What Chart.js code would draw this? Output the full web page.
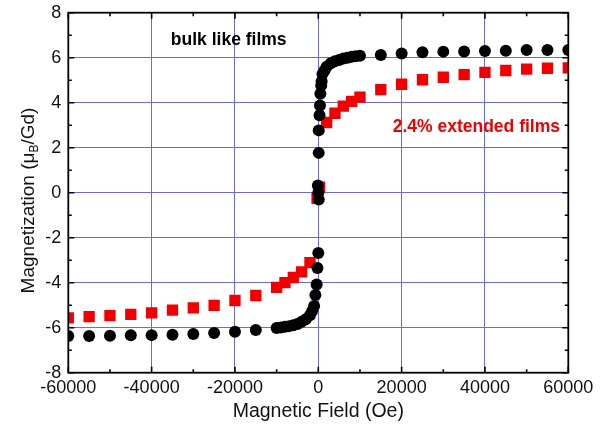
<!DOCTYPE html>
<html>
<head>
<meta charset="utf-8">
<script src="https://cdn.jsdelivr.net/npm/chart.js@4"></script>
<style>
    html, body { margin: 0; padding: 0; background: #fff; }
    #wrap { width: 611px; height: 436px; }
</style>
</head>
<body>
<div id="wrap"><canvas id="mChart" width="611" height="436"></canvas></div>
<script>
// Werte
const bulkFeld = [-60000, -55000, -50000, -45000, -40000, -35000, -30000, -25000, -20000, -15000,
    -10000, -9000, -8000, -7000, -6000, -5000, -4000, -3000, -2000, -1500, -1000, -700, -400, -200, 0,
    100, 0, -100, 100, 100, 300, 400, 500, 700, 800, 1000, 1500, 2000, 3000, 4000, 5000, 6000, 7000,
    8000, 9000, 10000, 15000, 20000, 25000, 30000, 35000, 40000, 45000, 50000, 55000, 60000];
const bulkMag = [-6.37, -6.37, -6.36, -6.34, -6.33, -6.31, -6.28, -6.24, -6.18, -6.10,
    -6.01, -5.99, -5.96, -5.93, -5.89, -5.84, -5.74, -5.62, -5.45, -5.27, -5.04, -4.55, -4.08, -3.35, -2.68,
    -0.30, 0.0, 0.32, 1.77, 2.77, 3.44, 3.88, 4.40, 4.77, 4.95, 5.28, 5.43, 5.60, 5.75, 5.84, 5.90, 5.96, 6.00,
    6.04, 6.07, 6.09, 6.12, 6.19, 6.24, 6.27, 6.28, 6.30, 6.31, 6.34, 6.34, 6.34];

const extFeld = [-60000, -55000, -50000, -45000, -40000, -35000, -30000, -25000, -20000, -15000,
    -10000, -8000, -6000, -4000, -2000, -300, 300, 2000, 4000, 6000, 8000, 10000,
    15000, 20000, 25000, 30000, 35000, 40000, 45000, 50000, 55000, 60000];
const extMag = [-5.56, -5.51, -5.46, -5.41, -5.34, -5.22, -5.12, -5.01, -4.79, -4.57,
    -4.21, -4.00, -3.77, -3.52, -3.11, -0.25, 0.25, 3.12, 3.53, 3.85, 4.06, 4.25,
    4.58, 4.82, 5.02, 5.13, 5.25, 5.35, 5.43, 5.49, 5.53, 5.55];

const xTicks = [-60000, -40000, -20000, 0, 20000, 40000, 60000];
const yTicks = [-8, -6, -4, -2, 0, 2, 4, 6, 8];

const xTitel = "Magnetic Field (Oe)";
const yTitel = ["Magnetization (\u03bc", "B", "/Gd)"];
const beschriftungen = [
    { text: "bulk like films", x: -21500, y: 6.79, farbe: "#000", align: "center" },
    { text: "2.4% extended films", x: 17860, y: 2.93, farbe: "#f00000", align: "left" }
];

const schrift = '"Liberation Sans", Arial, sans-serif';
const gitterFarbe = "#6a6ae0";

const toPunkte = (xs, ys) => xs.map((x, i) => ({ x: x, y: ys[i] }));

// Rahmen, Ticks nach innen, y-Titel und Beschriftungen
const rahmenPlugin = {
    id: "rahmen",
    afterDatasetsDraw(chart) {
        const { ctx, chartArea: a, scales } = chart;
        const xs = scales.x, ys = scales.y;
        ctx.save();
        ctx.strokeStyle = "#000";
        ctx.lineWidth = 1.6;
        for (let v = -60000; v <= 60000; v += 10000) {
            const px = xs.getPixelForValue(v);
            const len = (v % 20000 === 0) ? 6 : 3.5;
            ctx.beginPath();
            ctx.moveTo(px, a.bottom); ctx.lineTo(px, a.bottom - len);
            ctx.moveTo(px, a.top); ctx.lineTo(px, a.top + len);
            ctx.stroke();
        }
        for (let v = -8; v <= 8; v += 1) {
            const py = ys.getPixelForValue(v);
            const len = (v % 2 === 0) ? 6 : 3.5;
            ctx.beginPath();
            ctx.moveTo(a.left, py); ctx.lineTo(a.left + len, py);
            ctx.moveTo(a.right, py); ctx.lineTo(a.right - len, py);
            ctx.stroke();
        }
        ctx.lineWidth = 1.8;
        ctx.strokeRect(a.left, a.top, a.right - a.left, a.bottom - a.top);

        // Beschriftungen im Diagramm
        ctx.font = "bold 17.5px " + schrift;
        ctx.textBaseline = "middle";
        beschriftungen.forEach(b => {
            ctx.fillStyle = b.farbe;
            ctx.textAlign = b.align;
            ctx.fillText(b.text, xs.getPixelForValue(b.x), ys.getPixelForValue(b.y));
        });

        // y-Achsentitel mit tiefgestelltem B
        const gross = "19px " + schrift;
        const klein = "12px " + schrift;
        ctx.font = gross;
        const w1 = ctx.measureText(yTitel[0]).width;
        const w3 = ctx.measureText(yTitel[2]).width;
        ctx.font = klein;
        const w2 = ctx.measureText(yTitel[1]).width;
        const gesamt = w1 + w2 + w3;
        ctx.translate(27, 200.5);
        ctx.rotate(-Math.PI / 2);
        ctx.fillStyle = "#111";
        ctx.textAlign = "left";
        ctx.textBaseline = "alphabetic";
        let pos = -gesamt / 2;
        ctx.font = gross;
        ctx.fillText(yTitel[0], pos, 6.5);
        pos += w1;
        ctx.font = klein;
        ctx.fillText(yTitel[1], pos, 10.5);
        pos += w2;
        ctx.font = gross;
        ctx.fillText(yTitel[2], pos, 6.5);
        ctx.restore();
    }
};

const ctx = document.getElementById("mChart").getContext("2d");

new Chart(ctx, {
    type: "scatter",
    data: {
        datasets: [{
            label: "bulk like films",
            data: toPunkte(bulkFeld, bulkMag),
            pointStyle: "circle",
            pointRadius: 6,
            pointBorderWidth: 0,
            backgroundColor: "#000",
            borderColor: "#000"
        }, {
            label: "2.4% extended films",
            data: toPunkte(extFeld, extMag),
            pointStyle: "rect",
            pointRadius: 8,
            pointBorderWidth: 0,
            backgroundColor: "#f00000",
            borderColor: "#f00000"
        }]
    },
    options: {
        responsive: false,
        animation: false,
        events: [],
        layout: { padding: { left: 0, right: 42.7, top: 12.7, bottom: 0 } },
        plugins: {
            legend: { display: false },
            tooltip: { enabled: false }
        },
        scales: {
            x: {
                type: "linear",
                min: -60000,
                max: 60000,
                afterBuildTicks: s => { s.ticks = xTicks.map(v => ({ value: v })); },
                afterFit: s => { s.height = 63.3; },
                ticks: {
                    font: { size: 18, family: schrift },
                    color: "#111",
                    padding: 5,
                    maxRotation: 0,
                    callback: v => String(v)
                },
                grid: { color: gitterFarbe, lineWidth: 1, drawTicks: false },
                border: { display: false },
                title: {
                    display: true,
                    text: xTitel,
                    font: { size: 19.5, family: schrift },
                    color: "#111",
                    padding: { top: 0, bottom: 12.3 }
                }
            },
            y: {
                min: -8,
                max: 8,
                afterBuildTicks: s => { s.ticks = yTicks.map(v => ({ value: v })); },
                afterFit: s => {
                    s.width = 68.3;
                    s.paddingTop = 0;
                    s.paddingBottom = 0;
                },
                ticks: {
                    font: { size: 18, family: schrift },
                    color: "#111",
                    padding: 7,
                    callback: v => String(v)
                },
                grid: { color: gitterFarbe, lineWidth: 1, drawTicks: false },
                border: { display: false }
            }
        }
    },
    plugins: [rahmenPlugin]
});
</script>
</body>
</html>
